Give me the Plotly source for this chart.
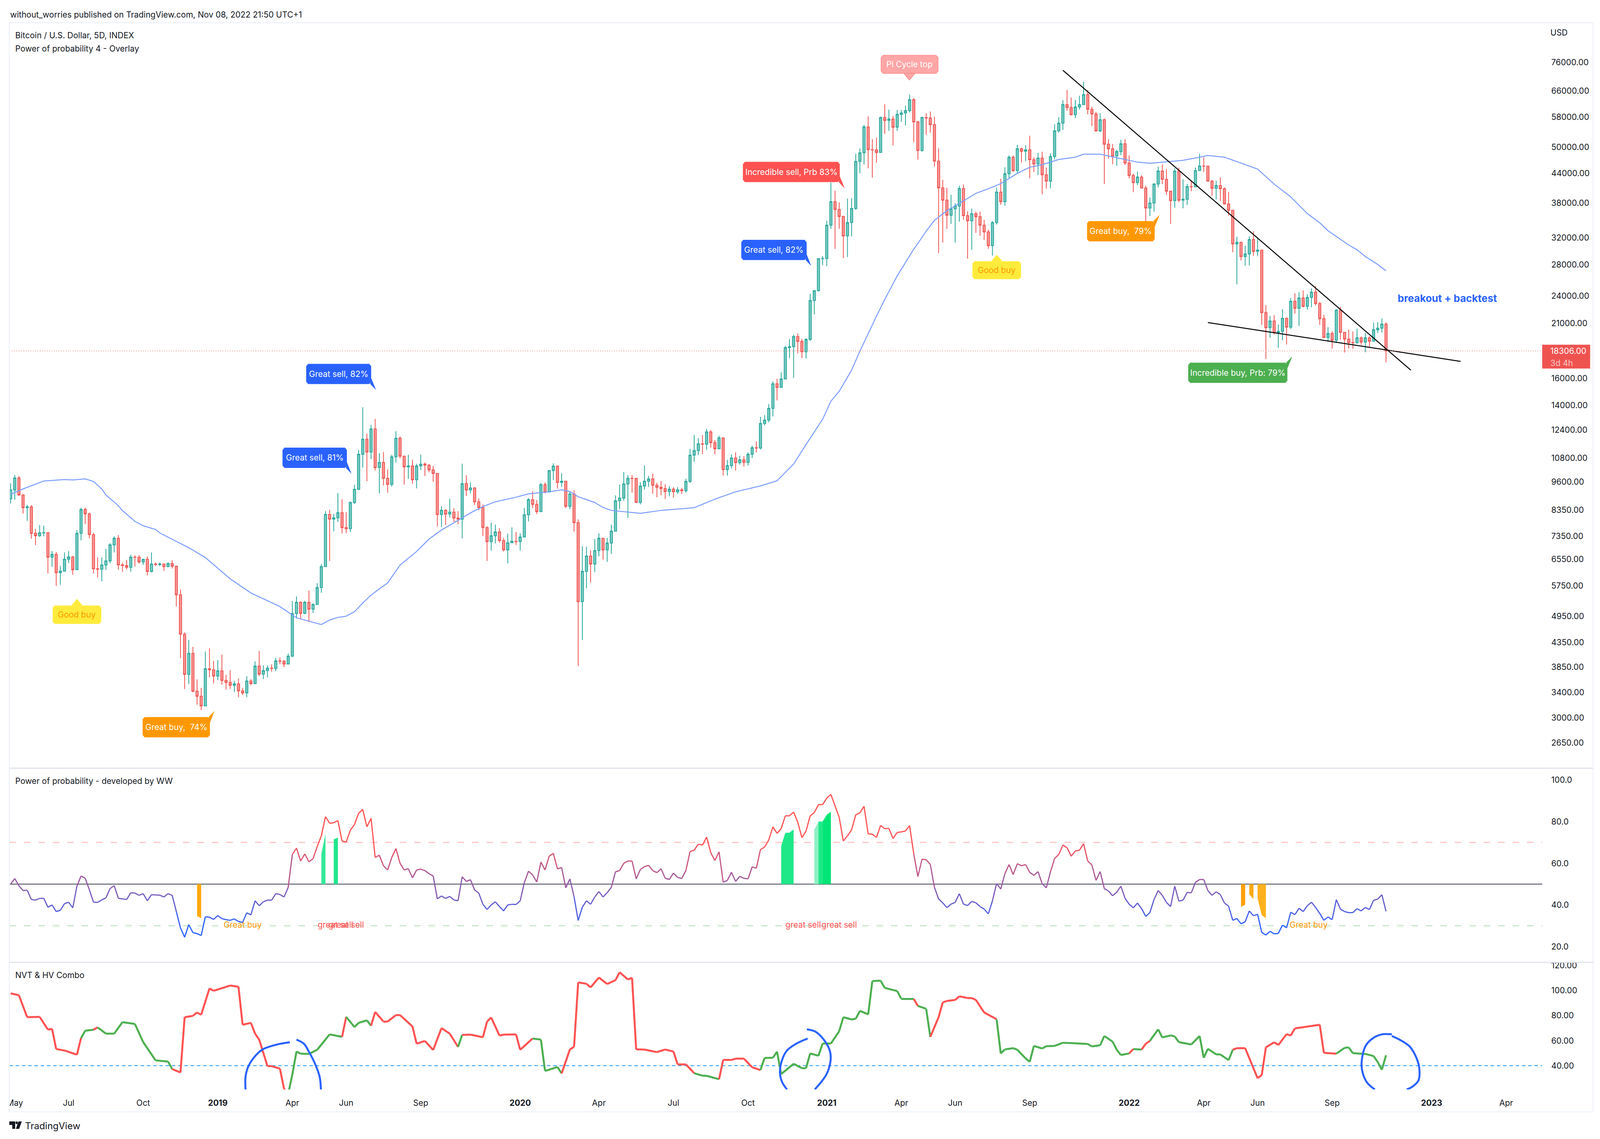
import plotly.graph_objects as go
import numpy as np

# Layout below is measured on the 4864 wide picture, the browser window is 4096 wide
W, H = 4864, 2916
PAGE_W = 4096
FONT = "Inter, sans-serif"
FONT_SIZE = 21
TEXT = "#131722"

# Data: one value per 5D bar
first_open = 8830
closes = [
    9220,9790,9000,8450,8490,7450,7360,7465,7475,6625,
    6715,6135,6180,6555,6630,6225,7450,8380,8200,7400,
    6255,6240,6370,6500,7035,7270,6375,6355,6300,6625,
    6620,6465,6550,6170,6400,6385,6405,6320,6415,6335,
    5500,4530,3715,4120,3420,3335,3180,3820,3800,3685,
    3780,3605,3570,3520,3545,3425,3390,3595,3550,3870,
    3720,3785,3830,3825,3970,3965,3910,4065,5015,5300,
    5020,5300,5125,5245,5700,6320,8175,7990,8040,8245,
    7660,7620,8670,9250,11000,11845,11120,12460,10300,10560,
    9770,9480,10860,11900,10900,10335,10385,9700,10385,10475,
    10425,10190,10010,8170,8345,8190,8270,8030,7985,9515,
    9220,9310,8700,8460,7665,7150,7360,7500,7185,6865,
    7110,7160,7150,7315,8160,8790,8590,8290,9470,9130,
    10150,10375,9575,9630,8510,9040,7850,5320,6175,6660,
    6400,6840,7270,6865,7100,7530,8745,8860,9500,9770,
    9760,8680,9400,9630,9740,9440,9345,9290,9150,9260,
    9140,9230,9190,9620,10950,11200,11580,11560,12280,11650,
    11300,11925,10200,10400,10800,10550,10700,10570,11000,11360,
    11340,12800,13020,13790,15570,15300,15940,18620,18700,19660,
    19190,18240,19380,23480,24640,28850,28880,34040,38220,36780,
    35530,32280,34480,36960,46610,48630,55280,49400,49350,48720,
    57860,57070,57460,55200,58800,59200,59880,63220,56660,49200,
    57860,57770,55890,46690,40910,38500,35750,36900,37400,40770,
    35680,34790,36010,35500,34040,32920,30780,34480,40080,38220,
    43880,47600,44560,49620,49000,49370,47000,46030,47380,43650,
    42300,47750,54200,56310,61690,60800,58720,60980,61690,64810,
    60290,58920,54200,57260,50730,49610,47880,48950,50860,46260,
    43490,41990,43170,40880,37050,37980,41680,44450,42690,40250,
    38430,44450,38500,38700,41170,41130,44560,45580,45550,42290,
    40830,41390,40750,37800,36640,31030,31280,29170,29530,31710,
    29920,30100,22120,20540,21220,20050,20170,21500,20590,23390,
    22590,23780,22810,23830,24460,23130,21470,19560,19950,19300,
    22400,20070,19400,19080,19060,19540,19130,19540,19210,20320,
    20480,20900,18306,
]
highs = [
    9530,9930,9880,9000,8570,8560,7610,7760,7730,7480,
    6820,6795,6345,6780,6820,6660,7565,8450,8450,8245,
    7465,6610,6610,6895,7095,7340,7380,6445,6535,6705,
    6680,6680,6570,6645,6780,6450,6450,6405,6450,6520,
    6355,5640,4570,4405,4255,3625,3475,4160,4225,3970,
    3990,4095,3705,3795,3595,3640,3475,3680,3630,3960,
    4170,3885,3885,3905,4025,4040,3990,4115,5330,5455,
    5325,5340,5615,5270,5825,6400,8310,8360,8190,9080,
    8810,8265,8710,9470,11230,13875,12175,12715,13100,11060,
    11120,10200,10970,12320,12020,10900,10970,10710,10490,10970,
    10565,10475,10385,10020,8510,8385,8830,8430,8305,10500,
    9920,9575,9360,8840,8585,7700,7850,7775,7640,7280,
    7435,7670,7500,7450,8435,8860,9175,8775,9550,9575,
    10170,10515,10400,10015,9650,9165,9210,7980,6990,6970,
    6850,7240,7450,7280,7280,7770,8980,9470,10070,9920,
    9920,9800,9590,10410,9890,9990,9560,9640,9480,9400,
    9350,9350,9320,9750,11300,12100,11900,12090,12460,12390,
    11800,12060,11950,10700,11000,11100,10920,10900,11100,11480,
    11720,13230,13350,14090,15760,15970,16470,18780,19400,19840,
    19950,19430,19490,24260,24720,28930,29200,34800,42000,40340,
    38100,35650,38800,38900,48400,49700,55780,58230,52000,52430,
    58180,61800,60170,58340,60060,60120,61400,64810,63660,56950,
    58150,59150,59610,58150,49740,42580,40910,39530,37960,41350,
    41610,36430,36950,36400,36400,34930,33300,34720,40950,42780,
    45300,48000,48000,50600,49900,50500,52900,47580,48630,48900,
    45220,48500,55990,58020,63050,66350,63880,63130,64460,69000,
    66260,61000,59500,59150,57600,52000,50800,49400,51880,52020,
    48030,43880,44350,43560,41350,39000,41880,45450,45920,44930,
    40270,45050,45200,42680,41720,42460,45220,48410,47580,45640,
    42540,42370,43140,41040,40070,36700,32150,31380,30760,32200,
    33030,31910,30150,22950,21750,21850,20860,22490,21620,23780,
    24330,24460,24660,24200,24930,25220,23300,21890,20590,20160,
    22490,22780,20040,20340,20150,20430,19640,19970,19700,21050,
    21090,21490,21090,
]
lows = [
    8630,8790,8950,8210,7920,7250,7030,7315,7340,6110,
    6315,5750,5780,6185,6430,6070,6215,7195,7800,7270,
    6110,5990,5880,6215,6430,6780,6225,6160,6235,6165,
    6320,6415,6375,6050,6140,6335,6335,6190,6300,6265,
    5190,4025,3455,3540,3400,3200,3115,3175,3660,3555,
    3610,3530,3445,3460,3405,3320,3355,3320,3525,3540,
    3685,3630,3660,3765,3775,3905,3850,3905,4045,4895,
    4895,5000,4810,5030,5245,5555,6315,6500,7520,7880,
    7440,7455,7500,8610,9220,10300,9630,10740,10150,9070,
    9430,9100,9380,10550,10780,9470,9740,9515,9295,10180,
    9880,10060,9600,7700,7680,7760,8050,7880,7790,7270,
    8960,9070,8560,8345,7350,6500,6840,7090,7110,6810,
    6420,7100,7030,6840,7305,7900,8435,8190,8265,9070,
    9120,9690,9285,9380,8430,8390,7510,3870,4400,5680,
    5840,6150,6650,6540,6470,6730,7520,8390,8745,8040,
    9100,8645,8590,9240,9365,9060,8900,8980,8820,8940,
    8880,9050,9050,9100,9550,10600,10950,11000,11250,11365,
    11000,11280,9900,9900,10250,10150,10450,10350,10400,10800,
    11100,11250,12680,12880,13260,14340,15260,15940,17670,16030,
    18100,17670,17640,19250,21930,24530,27950,27800,33430,30300,
    33430,28950,29100,32200,36720,43980,45930,45040,43060,46300,
    48660,53430,54200,50460,54210,56660,55670,59340,51260,47030,
    48920,53150,53720,45440,29660,31240,33430,34240,31250,34630,
    34960,28850,30150,32790,32280,31640,30300,29300,34150,37640,
    37460,43000,44260,44000,46350,46700,42900,44250,43560,39650,
    40780,40820,47070,53770,54480,59880,58480,57720,60200,61620,
    58800,55500,53990,53900,41690,47250,45980,45650,48080,45800,
    42860,40050,41470,40790,33380,35600,36400,41040,41680,39540,
    34270,37090,38130,37000,37630,40250,41040,44560,44260,42230,
    39310,38670,38350,37700,35690,29790,25440,28590,27910,27910,
    29270,29210,20820,17590,19540,19840,18600,19300,18900,20390,
    22000,20720,22700,22420,22700,22900,20820,19530,19160,18530,
    19050,19350,18170,18530,18500,18980,18860,18190,18680,19160,
    20000,20050,17300,
]
opens = [first_open] + closes[:-1]
bars = list(range(len(closes)))

# Moving average, read at the bends of the line
ma_bars = [0,3,8,13,15,18,20,22,23,26,27,30,32,35,36,41,43,47,53,58,65,69,75,77,
           79,81,83,85,87,89,91,94,98,101,104,108,111,114,117,122,125,130,133,135,137,
           141,143,145,149,152,157,165,170,175,181,185,189,192,196,198,200,203,205,209,
           211,214,218,219,221,223,226,230,233,236,239,243,246,249,253,257,259,263,267,
           272,275,279,283,287,289,293,298,301,305,309,313,316,318,323,325,327,330,332]
ma_values = [9030,9270,9640,9710,9690,9740,9620,9270,9000,8535,8330,7900,7730,7590,7460,7080,6940,6610,5950,5550,5190,4910,4750,4855,
             4920,4950,5060,5280,5490,5665,5830,6370,6810,7240,7570,7940,8235,8500,8700,8900,9050,9140,9230,9150,8920,
             8670,8460,8340,8270,8220,8340,8450,8815,9140,9410,9650,10480,11540,13070,14290,15000,16650,18290,21730,
             23600,26500,30250,31100,33060,34860,36550,38390,39810,40750,41780,43940,45300,45860,47070,47600,48300,48300,47500,
             46450,46200,46560,46870,47600,48000,47600,45860,44900,41680,39130,36040,34430,33120,30870,30160,29170,28040,27190]

trend_bars = [254, 338]
trend_values = [73060, 16650]
support_bars = [289, 350]
support_values = [21060, 17390]

price_ticks = [76000,66000,58000,50000,44000,38000,32000,28000,24000,21000,16000,14000,12400,
               10800,9600,8350,7350,6550,5750,4950,4350,3850,3400,3000,2650]
last_price = 18306

time_tick_bars = [1,14,32,50,68,81,99,123,142,160,178,197,215,228,246,270,288,301,319,343,361]
time_tick_labels = ["May","Jul","Oct","<b>2019</b>","Apr","Jun","Sep","<b>2020</b>","Apr","Jul","Oct",
                    "<b>2021</b>","Apr","Jun","Sep","<b>2022</b>","Apr","Jun","Sep","<b>2023</b>","Apr"]

# Power of probability oscillator
prob_values = [
    50,52.7,49.2,46.9,47.1,42.6,42.3,43.1,43.2,38.9,
    40,36.8,37.4,40.6,41.3,38.6,49,53.9,52.8,47.3,
    41.3,41.2,42.4,43.4,47.8,49.3,43.2,42.9,42.6,45.8,
    45.7,44.6,45.4,42,44.9,44.8,44.7,43.8,45.4,44.6,
    36.8,29,24.5,30.5,26.7,26.2,25.3,34.3,34.1,33,
    34.9,33.4,32.9,32.6,33.3,32,31.6,36.2,35.2,42,
    39.6,41.5,42.3,42.3,45.4,45,43.8,48.4,64.2,67.3,
    61.1,64.5,60.7,62.2,68,73.2,82.4,79.2,79.5,80.5,
    70.7,70.2,75.9,78.6,84,85.9,77.5,81.6,62.8,63.9,
    58.8,56.8,62.8,67.1,60,56.8,57.4,53,56.8,57.2,
    56.5,55,53.9,42.9,44.3,43.1,44.1,42.4,42,53.5,
    51.3,52.1,47.2,45.7,40.3,37.8,40,41.5,39.2,37.1,
    40,40.3,40.2,42,50.7,56.2,54.4,51,60.6,56.8,
    63.4,64.8,57.3,58,48.2,52.5,44,32.5,38.9,42,
    40.3,43.8,46.4,43.8,45.9,48.4,55.9,56.5,60,61.1,
    61.1,52.5,57,58.4,59,56.5,55.5,57.4,52.8,52.2,
    55.3,53.2,52.7,56.5,65.7,66.3,69.2,68.7,72.6,65.1,
    61.3,65.5,50.9,51.8,55.7,51.3,53.7,52.8,52.5,58.3,
    57.6,66.6,67.8,71.2,77.5,74.4,76.7,82.8,82.8,84.6,
    79.8,72.3,75.5,82.8,84.4,88.2,88.2,91.3,93.1,87.6,
    82.1,70.7,73.2,76.1,83.3,84.2,87.4,74.1,74,72.4,
    78.2,76.6,76.8,71.9,74.8,75.1,75.5,78.1,64.6,53.6,
    62,61.7,59.4,48.4,42.9,41,38.7,40.4,41.2,45.4,
    40.4,39.7,41.7,41,39.2,38,35.7,42,50.3,47.6,
    55,59.4,54.6,59.8,58.8,59.4,55.6,54.2,56,50.2,
    48.2,55.9,62.3,64.2,68.8,67.5,63.4,65.9,66.3,69.4,
    61.1,59.2,51.8,56,47.8,46.7,44.4,46.1,49,43.2,
    40.3,38.6,40.9,38.2,34.5,36.3,42.6,46.9,44.6,41.2,
    39.2,49,41.8,42.3,46,45.8,50.9,52.2,52.2,46.9,
    44.6,46.3,45,40.9,39.4,32.6,33.5,30.9,31.9,37.1,
    34.8,35.5,26.8,25.5,27.3,26.1,26.3,30.3,29,36.5,
    35.3,38.4,36.8,39.6,41.3,38.8,35.9,32.6,34.2,32.9,
    42.5,38,36.8,36.3,36.3,38.2,37.1,38.8,37.8,42.2,
    42.8,44.9,36.9,
]
prob_ticks = [100,80,60,40,20]

# Filled columns between the 50 level and the signal value
signal_runs = [
    ([45,46],[34.6,33.6],"#ffa90f"),
    ([75,76],[64.5,74.1],"#33e898"),
    ([78,79],[71.5,72.3],"#22e68c"),
    ([186,187,188,189],[68.4,74.6,74.7,76.3],"#1fe888"),
    ([194,195],[76.1,80],"#8ef1c4"),
    ([195,196],[80,80.1],"#1ee888"),
    ([196,197,198],[80.1,83.3,84.8],"#00e676"),
    ([297,298],[39.1,40.1],"#ff9f05"),
    ([299,300],[45.1,42.8],"#ffa90f"),
    ([301,302,303],[43.2,35.1,33.6],"#ffb01c"),
]

prob_text_bars = [56, 78.4, 81, 191.3, 200, 313.3]
prob_text_labels = ["Great buy","great sell","great sell","great sell","great sell","Great buy"]
prob_text_colors = ["#ff9800","#ff5252","#ff5252","#ff5252","#ff5252","#ff9800"]

# NVT & HV Combo, read at the bends of the line
nvt_bars = [0,2,4,7,9,10,11,13,16,17,18,20,21,23,25,27,30,32,35,38,39,41,42,44,45,46,48,49,53,55,56,58,59,60,
            62,63,65,66,67,68,69,70,72,74,77,80,81,83,84,86,87,88,90,91,93,94,97,98,100,102,104,106,108,109,
            111,114,115,116,118,119,122,123,126,128,129,132,133,135,136,137,139,140,142,144,146,147,149,150,
            151,153,156,158,160,161,163,165,167,168,171,172,174,175,177,179,181,182,184,185,186,189,191,192,
            193,195,196,198,200,201,203,204,205,207,208,210,211,214,215,218,219,221,222,224,225,226,228,229,
            231,232,233,235,238,239,240,242,243,245,246,247,249,250,252,254,257,260,261,263,264,266,267,268,
            270,271,273,274,275,277,278,280,281,282,285,287,288,289,291,292,294,295,296,298,299,301,302,303,
            305,306,308,309,310,313,316,317,320,322,323,324,327,329,330,331,332]
nvt_values = [97.7,96.3,78.7,79,68.8,69.4,53.3,52.1,48.8,62.1,67.9,68.7,70.6,65.6,65.6,74.8,73.3,58.8,44.2,43.3,37.3,34.6,78.7,79.8,82.5,80.6,101.7,99.8,104,103,72.7,74.2,65.6,60.8,
              39.6,39.6,37.7,21.5,17.5,32.9,51.3,49.6,49.4,52.7,65,63,79,70.8,74.2,76.2,71.9,82.9,75.2,75.2,80.4,80.4,71.3,57.5,59.8,52.5,70,65.6,55,64.6,
              64.8,62.7,75.2,78.5,64,64.8,65,52.7,61.7,60.8,35.8,39,33.8,53,55,106.5,105.4,102.5,110.4,105.2,108.3,114.6,108.8,110.2,
              53,52.9,50.8,52.9,51.3,41,41,34,32,31.9,29.2,44.6,44.6,45.6,45.6,38.7,36.5,46.2,46.3,51.2,33.3,41.5,38,38,
              49.8,47.9,57.7,57.7,67.5,78.7,76.9,77.5,83.8,81,107.5,107.9,102.1,99.6,93.3,93.3,87.7,85.4,63,78.7,90.6,91.7,92.5,95.4,
              94,94,92.5,82.5,77.1,49.8,53,54,52.7,45.8,43.1,55.8,53.7,55.6,55.8,58.3,57.9,57.3,55.4,56.3,63.7,59.2,52.7,48.5,
              49.8,53.3,52.9,57.5,59.8,69,62.5,64.2,63.3,58.8,56.9,63.7,46.3,53.5,49,49,44.4,52.7,54,54,46,30,32.5,54.6,
              58.7,56.5,65.2,64,69.8,71.2,72.7,50.2,49.6,54.2,54.6,50,49.4,47.7,42.9,36.7,48.3]
nvt_green_runs = [(17,20),(21,39),(67,80),(81,87),(108,109),(126,133),(165,171),(181,218),(219,222),
                  (238,270),(271,273),(275,295),(320,332)]
nvt_ticks = [120,100,80,60,40]
nvt_level = 40

# Hand drawn circles on the NVT pane
circle_strokes = [
    ([67.4,64.3,60.9,59.2,57.4,56.7,56.7],[58.7,56.9,53.1,48.3,39.6,31,21]),
    ([69,70.8,72,73.6,74.6,74.9],[60.8,57.5,51.2,40.6,31,21]),
    ([192.4,189.6,187.4,186.2,185.7,186.2,187.4],[61.7,57.5,52.1,44.4,34.8,27.1,21]),
    ([192.2,194.3,196.5,197.8,197.9,196.9,194.1],[69,67.1,59.8,51.2,43.5,32.9,21]),
    ([333.4,331,329,327.1,326.1,326.4,327.5,329.3],[65,65,62.3,56,42.5,33.8,26.2,21]),
    ([333.4,335.8,337.8,339.2,340,339.8,338.2,337],[63.7,59.8,55,47.3,38.7,28,22.9,21]),
]


def px(x):
    return x / W


def py(y):
    return 1 - y / H


def mix(v):
    # oscillator colour runs from blue at 30 to red at 70
    t = min(max((v - 30) / 40, 0), 1)
    r = round(41 + t * (255 - 41))
    g = round(98 + t * (82 - 98))
    b = round(255 + t * (82 - 255))
    return f"rgb({r},{g},{b})"


fig = go.Figure()

# Main pane
fig.add_trace(go.Candlestick(
    x=bars, open=opens, high=highs, low=lows, close=closes,
    increasing=dict(line=dict(color="#26a69a", width=2), fillcolor="rgba(38,166,154,0.6)"),
    decreasing=dict(line=dict(color="#ef5350", width=2), fillcolor="rgba(239,83,80,0.6)"),
    whiskerwidth=0, hoverinfo="skip", showlegend=False, xaxis="x", yaxis="y",
))
fig.add_trace(go.Scatter(x=ma_bars, y=ma_values, mode="lines", line=dict(color="#7b9cff", width=2.5),
                         hoverinfo="skip", showlegend=False, xaxis="x", yaxis="y"))
for xs, ys in [(trend_bars, trend_values), (support_bars, support_values)]:
    fig.add_trace(go.Scatter(x=xs, y=ys, mode="lines", line=dict(color="#000000", width=2.5),
                             hoverinfo="skip", showlegend=False, xaxis="x", yaxis="y"))
fig.add_trace(go.Scatter(x=[-0.3, 369.7], y=[last_price, last_price], mode="lines",
                         line=dict(color="#f79a98", width=2, dash="2px,4px"),
                         hoverinfo="skip", showlegend=False, xaxis="x", yaxis="y"))

# Oscillator pane
for level, color, width, dash in [(70, "#ffc6c6", 3, "17px,20px"), (50, "#787b86", 3, "solid"), (30, "#c8e6c9", 3, "17px,20px")]:
    fig.add_trace(go.Scatter(x=[-0.3, 369.7], y=[level, level], mode="lines",
                             line=dict(color=color, width=width, dash=dash),
                             hoverinfo="skip", showlegend=False, xaxis="x", yaxis="y2"))
for xs, ys, color in signal_runs:
    fig.add_trace(go.Scatter(x=[xs[0]] + xs + [xs[-1]], y=[50] + ys + [50], mode="lines", fill="toself",
                             fillcolor=color, line=dict(width=0), hoverinfo="skip", showlegend=False,
                             xaxis="x", yaxis="y2"))
for i in range(len(prob_values) - 1):
    fig.add_trace(go.Scatter(x=[bars[i], bars[i + 1]], y=[prob_values[i], prob_values[i + 1]], mode="lines",
                             line=dict(color=mix((prob_values[i] + prob_values[i + 1]) / 2), width=3),
                             hoverinfo="skip", showlegend=False, xaxis="x", yaxis="y2"))
fig.add_trace(go.Scatter(x=prob_text_bars, y=[30] * len(prob_text_bars), mode="text", text=prob_text_labels,
                         textposition="middle center", textfont=dict(family=FONT, size=FONT_SIZE, color=prob_text_colors),
                         hoverinfo="skip", showlegend=False, xaxis="x", yaxis="y2"))

# NVT pane
fig.add_trace(go.Scatter(x=[-0.3, 369.7], y=[nvt_level, nvt_level], mode="lines",
                         line=dict(color="#2196f3", width=2, dash="9px,7px"),
                         hoverinfo="skip", showlegend=False, xaxis="x", yaxis="y3"))
for i in range(len(nvt_bars) - 1):
    green = any(a <= nvt_bars[i] and nvt_bars[i + 1] <= b for a, b in nvt_green_runs)
    fig.add_trace(go.Scatter(x=nvt_bars[i:i + 2], y=nvt_values[i:i + 2], mode="lines",
                             line=dict(color="#4caf50" if green else "#ff5252", width=5),
                             hoverinfo="skip", showlegend=False, xaxis="x", yaxis="y3"))
for xs, ys in circle_strokes:
    fig.add_trace(go.Scatter(x=xs, y=ys, mode="lines", line=dict(color="#2962ff", width=5, shape="spline"),
                             hoverinfo="skip", showlegend=False, xaxis="x", yaxis="y3"))

shapes = []
annotations = []


def label(x, y, text, color=TEXT, size=FONT_SIZE, anchor="left"):
    annotations.append(dict(x=px(x), y=py(y), xref="paper", yref="paper", text=text, showarrow=False,
                            xanchor=anchor, yanchor="middle", font=dict(family=FONT, size=size, color=color)))


def rule(x0, y0, x1, y1, color="#e8eaf1", width=3):
    shapes.append(dict(type="line", xref="paper", yref="paper", x0=px(x0), y0=py(y0), x1=px(x1), y1=py(y1),
                       line=dict(color=color, width=width)))


def poly(points, color, line=None):
    path = "M " + " L ".join(f"{px(a):.5f} {py(b):.5f}" for a, b in points) + " Z"
    shapes.append(dict(type="path", xref="paper", yref="paper", path=path, fillcolor=color,
                       line=dict(width=0 if line is None else 2, color=line or color)))


def callout(x0, y0, x1, y1, tip, kind, color, text, text_color="#ffffff", line=None):
    r = 6
    corners = [(x0 + r, y0), (x1 - r, y0), (x1, y0 + r), (x1, y1 - r), (x1 - r, y1), (x0 + r, y1), (x0, y1 - r), (x0, y0 + r)]
    poly(corners, color, line)
    if kind == "down-right":
        poly([(x1, y1 - 15), tip, (x1 - 3, y1)], color)
    elif kind == "up-right":
        poly([(x1, y0 + 15), tip, (x1 - 4, y0)], color)
    elif kind == "up":
        poly([(tip[0] - 17, y0), tip, (tip[0] + 17, y0)], color)
    else:
        poly([(tip[0] - 17, y1), tip, (tip[0] + 17, y1)], color, line)
    label((x0 + x1) / 2, (y0 + y1) / 2, text, text_color, anchor="center")


# Masks and frame
poly([(0, 2790), (19, 2790), (19, 2845), (0, 2845)], "#ffffff")
rule(20, 53, 4843, 53, "#f0f3fa")
rule(20, 53, 20, 2846, "#f0f3fa")
rule(4843, 53, 4843, 2846, "#f0f3fa")
rule(20, 2846, 4843, 2846, "#f0f3fa")
rule(20, 1965, 4843, 1965, "#e0e3eb")
rule(20, 2463, 4843, 2463, "#e0e3eb")

# Labels on the chart
callout(152, 1548, 300, 1595, (226, 1531), "up", "#ffeb3b", "Good buy", "#ff9800")
callout(426, 1834, 631, 1886, (645, 1818), "up-right", "#ff9800", "Great buy,  74%")
callout(852, 1143, 1048, 1195, (1062, 1210), "down-right", "#2962ff", "Great sell, 81%")
callout(924, 928, 1122, 980, (1137, 995), "down-right", "#2962ff", "Great sell, 82%")
callout(2249, 610, 2448, 662, (2462, 677), "down-right", "#2962ff", "Great sell, 82%")
callout(2254, 410, 2549, 462, (2564, 478), "down-right", "#ff5252", "Incredible sell, Prb 83%")
callout(2675, 137, 2848, 183, (2761, 200), "down", "#ffa6a6", "Pi Cycle top", "#ffffff", "#ff8f8f")
callout(2953, 665, 3101, 711, (3027, 648), "up", "#ffeb3b", "Good buy", "#ff9800")
callout(3302, 562, 3508, 614, (3523, 546), "up-right", "#ff9800", "Great buy,  79%")
callout(3610, 925, 3912, 977, (3927, 909), "up-right", "#4caf50", "Incredible buy, Prb: 79%")
label(4400, 760, "<b>breakout + backtest</b>", "#2962ff", 26, "center")

# Price tag
poly([(4688, 879), (4834, 879), (4834, 940), (4688, 940)], "#ef5350")
label(4710, 895, "18306.00", "#ffffff")
label(4710, 926, "3d 4h", "rgba(255,255,255,0.7)")
label(4710, 79, "USD")

# Headers
label(20, 33, "without_worries published on TradingView.com, Nov 08, 2022 21:50 UTC+1")
label(36, 86, "Bitcoin / U.S. Dollar, 5D, INDEX")
label(36, 120, "Power of probability 4 - Overlay")
label(36, 1998, "Power of probability - developed by WW")
label(36, 2496, "NVT &amp; HV Combo")

# TradingView mark
poly([(20, 2871), (38, 2871), (38, 2890), (29, 2890), (29, 2880), (20, 2880)], "#131722")
poly([(48, 2871), (58, 2871), (50, 2890), (40, 2890)], "#131722")
shapes.append(dict(type="circle", xref="paper", yref="paper", x0=px(39), x1=px(46), y0=py(2878), y1=py(2871),
                   fillcolor="#131722", line=dict(width=0)))
label(66, 2882, "TradingView", TEXT, 24)


def tick_axis(domain, rng, vals, fmt, kind="linear"):
    return dict(domain=domain, range=rng, type=kind, side="right", anchor="x", tickmode="array", tickvals=vals,
                ticktext=[fmt.format(v) for v in vals], showgrid=False, zeroline=False, showline=False,
                ticks="outside", ticklen=18, tickwidth=1, tickcolor="rgba(0,0,0,0)",
                tickfont=dict(family=FONT, size=FONT_SIZE, color=TEXT), fixedrange=True)


fig.update_layout(
    width=PAGE_W, height=H, margin=dict(l=0, r=0, t=0, b=0, pad=0), paper_bgcolor="#ffffff", plot_bgcolor="#ffffff",
    showlegend=False, boxgap=0.22, hovermode=False, font=dict(family=FONT, size=FONT_SIZE, color=TEXT),
    xaxis=dict(domain=[px(20), px(4688)], range=[-0.32, 369.7], anchor="y3", tickmode="array",
               tickvals=time_tick_bars, ticktext=time_tick_labels, showgrid=False, zeroline=False, showline=False,
               rangeslider=dict(visible=False), ticks="outside", ticklen=16, tickwidth=1, tickcolor="rgba(0,0,0,0)",
               tickangle=0, tickfont=dict(family=FONT, size=FONT_SIZE, color=TEXT), fixedrange=True),
    yaxis=tick_axis([py(1965), py(53)], [np.log10(2339), np.log10(92430)], price_ticks, "{:.2f}", "log"),
    yaxis2=tick_axis([py(2463), py(1965)], [12.4, 105.7], prob_ticks, "{:.1f}"),
    yaxis3=tick_axis([py(2789), py(2463)], [21, 122.5], nvt_ticks, "{:.2f}"),
    shapes=shapes, annotations=annotations,
)

fig.write_html("out.html", config=dict(displayModeBar=False), post_script="document.body.style.margin='0';")
